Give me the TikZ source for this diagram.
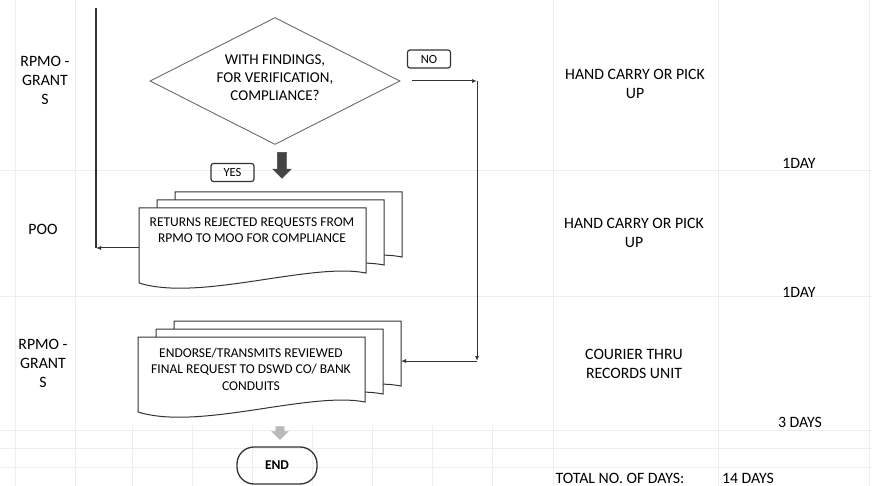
\documentclass[tikz,border=0pt]{standalone}
\usepackage{fontspec}
\setmainfont{Carlito}
\usepackage{tikz}
\usetikzlibrary{positioning,arrows.meta,shapes.geometric,shapes.arrows}
\definecolor{inkgrey}{HTML}{333333}
\definecolor{softgrey}{HTML}{6A6A6A}
\definecolor{rulegrey}{HTML}{EEEEEE}
\definecolor{arrowdark}{HTML}{444444}
\definecolor{arrowlight}{HTML}{B9B9B9}
\tikzset{
  lane/.style={align=center, font=\fontsize{15.8}{19}\selectfont, inner sep=0pt},
  flowtxt/.style={align=center, font=\fontsize{13.5}{16.5}\selectfont, inner sep=0pt},
  dec/.style={diamond, draw=softgrey, line width=0.9pt, minimum width=250pt,
              minimum height=127pt, inner sep=0pt},
  dectxt/.style={align=center, font=\fontsize{15}{18}\selectfont, inner sep=0pt},
  tag/.style={rectangle, rounded corners=2.5pt, draw=inkgrey, line width=1.2pt,
              minimum width=43pt, minimum height=18pt, inner sep=0pt,
              font=\fontsize{12.5}{14}\selectfont},
  term/.style={rectangle, rounded corners=17pt, draw=inkgrey, line width=1.3pt,
               minimum width=80pt, minimum height=37pt, inner sep=0pt,
               font=\bfseries\fontsize{13.5}{15}\selectfont},
  blockarr/.style={single arrow, shape border rotate=270, fill=#1, draw=#1},
  fl/.style={-{Latex[length=5pt,width=4pt]}, line width=1pt, draw=inkgrey},
  ln/.style={line width=1.3pt, draw=inkgrey},
  sheet/.style={draw=inkgrey, line width=1pt, fill=white},
  rule/.style={draw=rulegrey, line width=0.8pt},
  pics/docstack/.style={code={
    \foreach \dx/\dy in {36/-16, 18/-8, 0/0}
      \draw[sheet, shift={(\dx,\dy)}] (0,0) -- (227,0) -- (227,65)
        .. controls (171,54) and (61,94) .. (0,75) -- cycle;
    \coordinate (-l) at (0,40);
    \coordinate (-r) at (263,24);
  }},
}
\begin{document}
\begin{tikzpicture}[x=1pt, y=-1pt]
  \useasboundingbox (0,0) rectangle (872,486);

  % sheet grid
  \foreach \gy in {170,296,430,448,467}
    \draw[rule] (0,\gy) -- (872,\gy);
  \foreach \gx in {15,75,553,718,869}
    \draw[rule] (\gx,0) -- (\gx,486);
  \foreach \gx in {132,192,252,312,372,432,492}
    \draw[rule] (\gx,425) -- (\gx,486);

  % lanes
  \node[lane] (g1) at (45,80) {RPMO -\\GRANT\\S};
  \node[lane] (poo) at (43,229) {POO};
  \node[lane] (g2) at (43,363) {RPMO -\\GRANT\\S};
  \node[lane] (hc1) at (635,84) {HAND CARRY OR PICK\\UP};
  \node[lane] (d1) at (799,163) {1DAY};
  \node[lane] (hc2) at (634,233) {HAND CARRY OR PICK\\UP};
  \node[lane] (d2) at (799,292) {1DAY};
  \node[lane] (cr) at (634,364) {COURIER THRU\\RECORDS UNIT};
  \node[lane] (d3) at (800,422) {3 DAYS};
  \node[lane] (tot) at (620,478) {TOTAL NO. OF DAYS:};
  \node[lane] (sum) at (748,478) {14 DAYS};

  % flow
  \node[dec] (chk) at (275,81) {};
  \node[dectxt] (chktxt) at (275,78) {WITH FINDINGS,\\FOR VERIFICATION,\\COMPLIANCE?};
  \node[tag] (no) at (429,59) {NO};
  \node[blockarr=arrowdark, inner sep=4.5pt, minimum height=26pt,
        single arrow head extend=4.5pt] (down1) at (282,163) {};
  \node[tag] (yes) at (232.5,172.5) {YES};

  \pic (ret) at (139,208) {docstack};
  \node[flowtxt] (rettxt) at (252,230)
       {RETURNS REJECTED REQUESTS FROM\\RPMO TO MOO FOR COMPLIANCE};
  \pic (endo) at (138,337) {docstack};
  \node[flowtxt] (endotxt) at (251,369)
       {ENDORSE/TRANSMITS REVIEWED\\FINAL REQUEST TO DSWD CO/ BANK\\CONDUITS};

  \node[blockarr=arrowlight, inner sep=4pt, minimum height=13pt,
        single arrow head extend=4pt] (down2) at (280,431) {};
  \node[term] (fin) at (277,465.5) {END};

  \coordinate (looptop) at (96,8);
  \coordinate (noturn) at (477,82);
  \draw[fl] (ret-l) -- (ret-l -| looptop);
  \draw[ln] (ret-l -| looptop) -- (looptop);
  \draw[fl, shorten <=12pt] (chk.east) -- (chk.east -| noturn);
  \draw[fl] (chk.east -| noturn) -- (noturn |- endo-r);
  \draw[fl] (noturn |- endo-r) -- (endo-r);
\end{tikzpicture}
\end{document}
